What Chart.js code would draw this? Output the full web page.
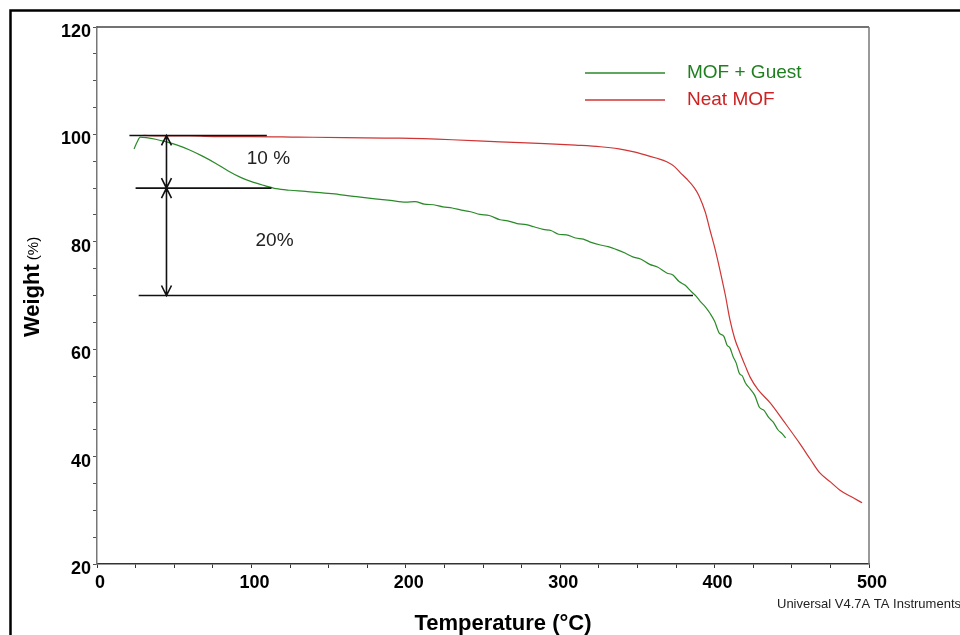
<!DOCTYPE html>
<html>
<head>
<meta charset="utf-8">
<script src="https://cdn.jsdelivr.net/npm/chart.js@4"></script>
<style>
  html, body { margin: 0; padding: 0; background: #ffffff; }
  #wrap { width: 960px; height: 635px; }
</style>
</head>
<body>
<div id="wrap"><canvas id="tgaChart" width="960" height="635"></canvas></div>
<script>
/* ===========================================
   DATA
=========================================== */

const guestTemps = [
    24, 26, 28, 32, 38, 45, 52, 60, 68, 77, 85, 93, 100, 108, 116, 125,
    135, 146, 157, 168, 180, 190, 200, 206, 212, 218, 224, 230, 236, 242,
    248, 254, 261, 266, 272, 278, 283, 289, 294, 299, 304, 310, 315, 320,
    326, 331, 337, 342, 347, 352, 358, 363, 369, 373, 377, 381, 385, 388,
    391, 394, 397, 400, 403, 406, 408, 410, 412, 414, 416, 418, 420, 423,
    426, 429, 432, 435, 438, 441, 444, 446
];

const guestWeight = [
    97.3, 98.6, 99.5, 99.4, 99.1, 98.6, 98.0, 97.1, 96.0, 94.6, 93.2, 92.0, 91.2, 90.5, 89.9, 89.6,
    89.4, 89.1, 88.8, 88.4, 88.0, 87.7, 87.4, 87.5, 87.0, 86.9, 86.5, 86.3, 85.9, 85.6,
    85.1, 84.9, 84.1, 83.9, 83.4, 83.2, 82.8, 82.3, 82.1, 81.4, 81.3, 80.7, 80.5, 79.9,
    79.4, 79.1, 78.5, 77.9, 77.2, 76.8, 75.8, 75.3, 74.2, 73.8, 72.6, 71.9, 70.7, 69.9,
    68.8, 67.9, 66.7, 65.2, 63.0, 62.4, 60.8, 60.2, 58.6, 57.4, 55.5, 55.0, 53.7, 52.6,
    51.4, 49.2, 48.6, 47.3, 46.4, 45.0, 44.2, 43.5
];

const neatTemps = [
    30, 40, 60, 80, 100, 130, 160, 196, 230, 261, 290, 310, 326, 338, 347,
    355, 362, 369, 374, 378, 382, 387, 390, 394, 397, 400, 403.5, 407, 410,
    413, 416.5, 420, 423, 428, 436, 445, 455, 462, 468, 475, 481, 488, 495.5
];

const neatWeight = [
    99.8, 99.7, 99.7, 99.6, 99.6, 99.5, 99.4, 99.3, 99.0, 98.6, 98.3, 98.0, 97.7, 97.3, 96.8,
    96.2, 95.6, 94.9, 94.0, 92.8, 91.7, 90.0, 88.5, 85.5, 82.2, 79.0, 74.7, 70.0, 65.4,
    62.0, 59.3, 56.8, 54.8, 52.5, 50.0, 46.5, 42.5, 39.5, 37.0, 35.3, 33.8, 32.6, 31.4
];

// weight-loss step guides
const stepLevels = [99.8, 90, 70];
const stepStart = [21, 25, 27];
const stepEnd = [110, 113, 386];
const arrowTemp = 45;

const stepLabels = ["10 %", "20%"];
const stepLabelTemp = [111, 115];
const stepLabelWeight = [95.4, 80.2];

const seriesNames = ["MOF + Guest", "Neat MOF"];
const seriesColors = ["#2a8a2a", "#d03434"];
const legendTextColors = ["#1f7f1f", "#cc2222"];

const xTickStep = 25;
const yTickStep = 5;

/* ===========================================
   HELPERS
=========================================== */

function toPoints(xs, ys) {
    return xs.map((x, i) => ({ x: x, y: ys[i] }));
}

const stepDatasets = stepLevels.map((lvl, i) => ({
    label: "step" + i,
    data: [{ x: stepStart[i], y: lvl }, { x: stepEnd[i], y: lvl }],
    borderColor: "#111111",
    borderWidth: 1.6,
    pointRadius: 0,
    order: 0
}));

/* ===========================================
   DECORATION PLUGIN
=========================================== */

const tgaDecor = {
    id: "tgaDecor",
    afterDatasetsDraw(chart) {
        const ctx = chart.ctx;
        const xs = chart.scales.x;
        const ys = chart.scales.y;
        const area = chart.chartArea;

        ctx.save();

        // plot frame top / right
        ctx.strokeStyle = "#444444";
        ctx.lineWidth = 1.5;
        ctx.beginPath();
        ctx.moveTo(area.left, area.top);
        ctx.lineTo(area.right, area.top);
        ctx.stroke();
        ctx.strokeStyle = "#777777";
        ctx.beginPath();
        ctx.moveTo(area.right, area.top);
        ctx.lineTo(area.right, area.bottom);
        ctx.stroke();

        // double headed arrows between step levels
        const ax = xs.getPixelForValue(arrowTemp);
        ctx.strokeStyle = "#111111";
        ctx.lineWidth = 1.6;
        for (let i = 0; i < stepLevels.length - 1; i++) {
            const y1 = ys.getPixelForValue(stepLevels[i]);
            const y2 = ys.getPixelForValue(stepLevels[i + 1]);
            ctx.beginPath();
            ctx.moveTo(ax, y1);
            ctx.lineTo(ax, y2);
            ctx.moveTo(ax - 5, y1 + 10);
            ctx.lineTo(ax, y1);
            ctx.lineTo(ax + 5, y1 + 10);
            ctx.moveTo(ax - 5, y2 - 10);
            ctx.lineTo(ax, y2);
            ctx.lineTo(ax + 5, y2 - 10);
            ctx.stroke();
        }

        // step labels
        ctx.fillStyle = "#222222";
        ctx.font = "19px 'Liberation Sans', Arial, sans-serif";
        ctx.textAlign = "center";
        ctx.textBaseline = "middle";
        stepLabels.forEach((t, i) => {
            ctx.fillText(t, xs.getPixelForValue(stepLabelTemp[i]), ys.getPixelForValue(stepLabelWeight[i]));
        });

        // legend
        ctx.lineWidth = 1.5;
        ctx.textAlign = "left";
        seriesNames.forEach((name, i) => {
            const ly = 73 + i * 27;
            ctx.strokeStyle = seriesColors[i];
            ctx.beginPath();
            ctx.moveTo(585, ly);
            ctx.lineTo(665, ly);
            ctx.stroke();
            ctx.fillStyle = legendTextColors[i];
            ctx.fillText(name, 687, ly);
        });

        // axis titles
        ctx.fillStyle = "#000000";
        ctx.textAlign = "center";
        ctx.font = "bold 22px 'Liberation Sans', Arial, sans-serif";
        ctx.fillText("Temperature (\u00b0C)", 503, 624);

        ctx.save();
        ctx.translate(33, 287);
        ctx.rotate(-Math.PI / 2);
        ctx.textAlign = "left";
        ctx.font = "bold 22px 'Liberation Sans', Arial, sans-serif";
        const wW = ctx.measureText("Weight").width;
        ctx.font = "15px 'Liberation Sans', Arial, sans-serif";
        const pW = ctx.measureText("(%)").width;
        const startX = -(wW + 4 + pW) / 2;
        ctx.font = "bold 22px 'Liberation Sans', Arial, sans-serif";
        ctx.fillText("Weight", startX, 0);
        ctx.font = "15px 'Liberation Sans', Arial, sans-serif";
        ctx.fillText("(%)", startX + wW + 4, 1);
        ctx.restore();

        // instrument tag
        ctx.textAlign = "left";
        ctx.fillStyle = "#222222";
        ctx.font = "13px 'Liberation Sans', Arial, sans-serif";
        ctx.fillText("Universal V4.7A TA Instruments", 777, 604);

        // outer frame (top / left edges)
        ctx.strokeStyle = "#000000";
        ctx.lineWidth = 2.5;
        ctx.beginPath();
        ctx.moveTo(960, 10.5);
        ctx.lineTo(10.5, 10.5);
        ctx.lineTo(10.5, 635);
        ctx.stroke();

        ctx.restore();
    }
};

/* ===========================================
   CHART
=========================================== */

const tgaChart = new Chart(

    document.getElementById("tgaChart"),

    {

        type: "line",

        data: {

            datasets: [

                ...stepDatasets,

                {
                    label: seriesNames[0],
                    data: toPoints(guestTemps, guestWeight),
                    borderColor: seriesColors[0],
                    borderWidth: 1.2,
                    pointRadius: 0,
                    cubicInterpolationMode: "monotone",
                    order: 1
                },

                {
                    label: seriesNames[1],
                    data: toPoints(neatTemps, neatWeight),
                    borderColor: seriesColors[1],
                    borderWidth: 1.2,
                    pointRadius: 0,
                    cubicInterpolationMode: "monotone",
                    order: 1
                }

            ]

        },

        options: {

            responsive: false,
            animation: false,

            layout: {
                padding: { top: 27, right: 91, left: 0, bottom: 0 }
            },

            plugins: {
                legend: { display: false },
                tooltip: { enabled: false }
            },

            scales: {

                x: {
                    type: "linear",
                    min: 0,
                    max: 500,
                    afterFit: (s) => { s.height = 71; },
                    grid: {
                        drawOnChartArea: false,
                        drawTicks: true,
                        tickLength: 4,
                        color: "#333333"
                    },
                    border: { color: "#333333", width: 1.5 },
                    ticks: {
                        stepSize: xTickStep,
                        autoSkip: false,
                        maxRotation: 0,
                        padding: 4,
                        labelOffset: 3,
                        color: "#000000",
                        font: { family: "'Liberation Sans', Arial", size: 18, weight: "bold" },
                        callback: (v) => (v % 100 === 0 ? v : "")
                    }
                },

                y: {
                    type: "linear",
                    min: 20,
                    max: 120,
                    afterFit: (s) => { s.width = 97; },
                    grid: {
                        drawOnChartArea: false,
                        drawTicks: true,
                        tickLength: 4,
                        color: "#555555"
                    },
                    border: { color: "#777777", width: 1.5 },
                    ticks: {
                        stepSize: yTickStep,
                        autoSkip: false,
                        padding: 2,
                        labelOffset: 5,
                        color: "#000000",
                        font: { family: "'Liberation Sans', Arial", size: 18, weight: "bold" },
                        callback: (v) => (v % 20 === 0 ? v : "")
                    }
                }

            }

        },

        plugins: [tgaDecor]

    }

);
</script>
</body>
</html>
